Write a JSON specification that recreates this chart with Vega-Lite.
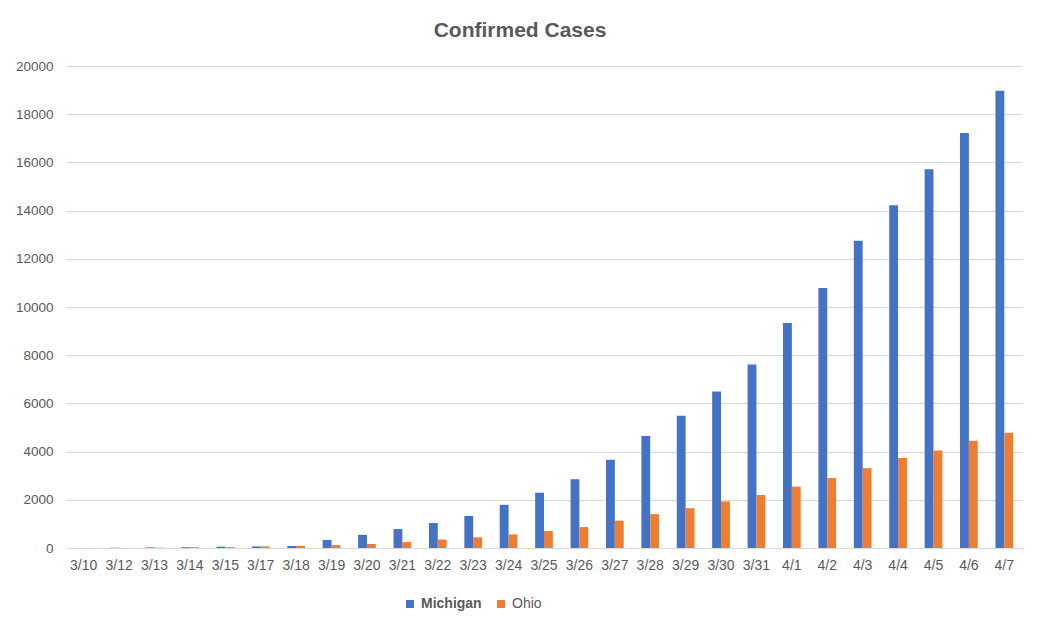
{
  "$schema": "https://vega.github.io/schema/vega-lite/v6.json",
  "width": 956,
  "height": 482,
  "autosize": {"type": "none"},
  "padding": {"left": 66, "top": 66, "right": 16, "bottom": 79},
  "background": "white",
  "title": {
    "text": "Confirmed Cases",
    "font": "Liberation Sans",
    "fontSize": 21,
    "fontWeight": "bold",
    "color": "#595959",
    "anchor": "middle",
    "dx": -24,
    "offset": 18
  },
  "data": {
    "values": [
      {"date": "3/10", "state": "Michigan", "cases": 2},
      {"date": "3/12", "state": "Michigan", "cases": 12},
      {"date": "3/13", "state": "Michigan", "cases": 25},
      {"date": "3/14", "state": "Michigan", "cases": 33},
      {"date": "3/15", "state": "Michigan", "cases": 53},
      {"date": "3/17", "state": "Michigan", "cases": 65},
      {"date": "3/18", "state": "Michigan", "cases": 83},
      {"date": "3/19", "state": "Michigan", "cases": 336},
      {"date": "3/20", "state": "Michigan", "cases": 549},
      {"date": "3/21", "state": "Michigan", "cases": 787},
      {"date": "3/22", "state": "Michigan", "cases": 1035},
      {"date": "3/23", "state": "Michigan", "cases": 1328},
      {"date": "3/24", "state": "Michigan", "cases": 1791},
      {"date": "3/25", "state": "Michigan", "cases": 2294},
      {"date": "3/26", "state": "Michigan", "cases": 2856},
      {"date": "3/27", "state": "Michigan", "cases": 3657},
      {"date": "3/28", "state": "Michigan", "cases": 4650},
      {"date": "3/29", "state": "Michigan", "cases": 5486},
      {"date": "3/30", "state": "Michigan", "cases": 6498},
      {"date": "3/31", "state": "Michigan", "cases": 7615},
      {"date": "4/1", "state": "Michigan", "cases": 9334},
      {"date": "4/2", "state": "Michigan", "cases": 10791},
      {"date": "4/3", "state": "Michigan", "cases": 12744},
      {"date": "4/4", "state": "Michigan", "cases": 14225},
      {"date": "4/5", "state": "Michigan", "cases": 15718},
      {"date": "4/6", "state": "Michigan", "cases": 17221},
      {"date": "4/7", "state": "Michigan", "cases": 18970},
      {"date": "3/10", "state": "Ohio", "cases": 3},
      {"date": "3/12", "state": "Ohio", "cases": 5},
      {"date": "3/13", "state": "Ohio", "cases": 13},
      {"date": "3/14", "state": "Ohio", "cases": 26},
      {"date": "3/15", "state": "Ohio", "cases": 37},
      {"date": "3/17", "state": "Ohio", "cases": 67},
      {"date": "3/18", "state": "Ohio", "cases": 88},
      {"date": "3/19", "state": "Ohio", "cases": 119},
      {"date": "3/20", "state": "Ohio", "cases": 169},
      {"date": "3/21", "state": "Ohio", "cases": 247},
      {"date": "3/22", "state": "Ohio", "cases": 351},
      {"date": "3/23", "state": "Ohio", "cases": 442},
      {"date": "3/24", "state": "Ohio", "cases": 564},
      {"date": "3/25", "state": "Ohio", "cases": 704},
      {"date": "3/26", "state": "Ohio", "cases": 867},
      {"date": "3/27", "state": "Ohio", "cases": 1137},
      {"date": "3/28", "state": "Ohio", "cases": 1406},
      {"date": "3/29", "state": "Ohio", "cases": 1653},
      {"date": "3/30", "state": "Ohio", "cases": 1933},
      {"date": "3/31", "state": "Ohio", "cases": 2199},
      {"date": "4/1", "state": "Ohio", "cases": 2547},
      {"date": "4/2", "state": "Ohio", "cases": 2902},
      {"date": "4/3", "state": "Ohio", "cases": 3312},
      {"date": "4/4", "state": "Ohio", "cases": 3739},
      {"date": "4/5", "state": "Ohio", "cases": 4043},
      {"date": "4/6", "state": "Ohio", "cases": 4450},
      {"date": "4/7", "state": "Ohio", "cases": 4782}
    ]
  },
  "mark": {"type": "bar"},
  "encoding": {
    "x": {
      "field": "date",
      "type": "nominal",
      "sort": null,
      "scale": {"paddingInner": 0.5, "paddingOuter": 0.25},
      "axis": {
        "title": null,
        "labelAngle": 0,
        "ticks": false,
        "domainColor": "#d9d9d9",
        "labelFont": "Liberation Sans",
        "labelFontSize": 14,
        "labelColor": "#595959",
        "labelPadding": 10
      }
    },
    "xOffset": {"field": "state", "type": "nominal", "sort": ["Michigan", "Ohio"]},
    "y": {
      "field": "cases",
      "type": "quantitative",
      "scale": {"domain": [0, 20000]},
      "axis": {
        "title": null,
        "values": [0, 2000, 4000, 6000, 8000, 10000, 12000, 14000, 16000, 18000, 20000],
        "format": "d",
        "domain": false,
        "ticks": false,
        "gridColor": "#d9d9d9",
        "labelFont": "Liberation Sans",
        "labelFontSize": 13.5,
        "labelColor": "#595959",
        "labelPadding": 13
      }
    },
    "color": {
      "field": "state",
      "type": "nominal",
      "scale": {"domain": ["Michigan", "Ohio"], "range": ["#4472C4", "#ED7D31"]},
      "legend": {
        "title": null,
        "orient": "none",
        "direction": "horizontal",
        "legendX": 337,
        "legendY": 531,
        "symbolType": "square",
        "symbolSize": 64,
        "symbolStrokeWidth": 0,
        "labelFont": "Liberation Sans",
        "labelFontSize": 14,
        "labelColor": "#595959",
        "labelOffset": 4,
        "columnPadding": 12,
        "encode": {
          "labels": {
            "update": {
              "fontWeight": {"signal": "datum.value === 'Michigan' ? 'bold' : 'normal'"}
            }
          }
        }
      }
    }
  },
  "config": {
    "view": {"stroke": null}
  }
}
